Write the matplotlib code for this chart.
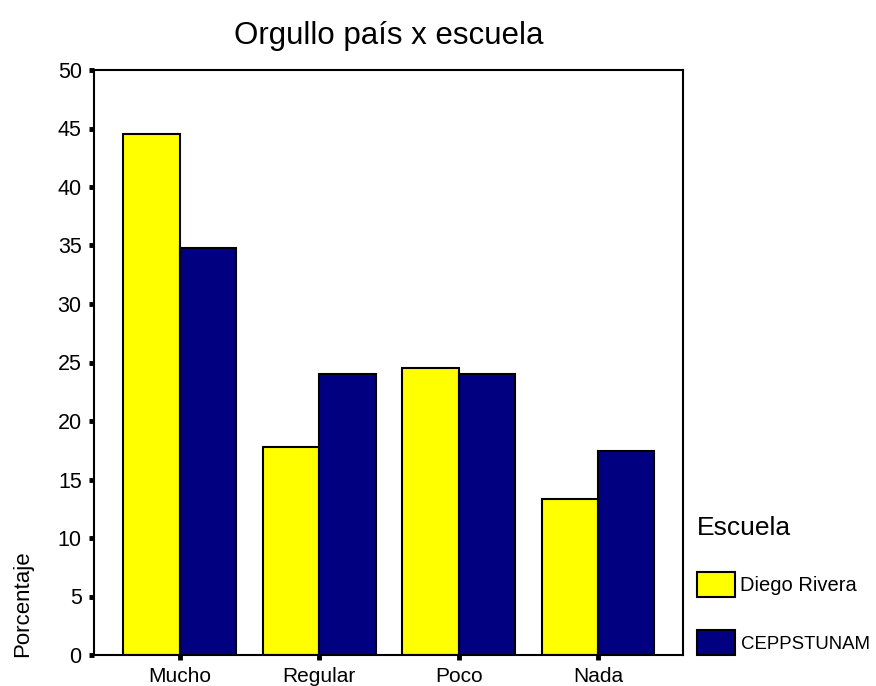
import matplotlib
matplotlib.use("Agg")
import matplotlib.pyplot as plt
import numpy as np

categories = ["Mucho", "Regular", "Poco", "Nada"]
series_names = ["Diego Rivera", "CEPPSTUNAM"]
diego_rivera = [44.5, 17.8, 24.5, 13.3]
ceppstunam = [34.8, 24.0, 24.0, 17.4]
y_ticks = [0, 5, 10, 15, 20, 25, 30, 35, 40, 45, 50]
colors = ["#FFFF00", "#000080"]

plt.rcParams['font.family'] = ['Liberation Sans', 'DejaVu Sans']

W, H = 876, 686
fig = plt.figure(figsize=(W / 100, H / 100), dpi=100)
ax = fig.add_axes([93.5 / W, 1 - 655 / H, (683 - 93.5) / W, (655 - 70) / H])

x = np.arange(len(categories))
bw = 0.405
b1 = ax.bar(x - bw / 2, diego_rivera, width=bw, color=colors[0], edgecolor="black",
            linewidth=1.5, label=series_names[0])
b2 = ax.bar(x + bw / 2, ceppstunam, width=bw, color=colors[1], edgecolor="black",
            linewidth=1.5, label=series_names[1])

ax.set_xlim(-0.62, 3.61)
ax.set_ylim(0, 50)
ax.set_yticks(y_ticks)
ax.set_xticks(x)
ax.set_xticklabels(categories)
for s in ax.spines.values():
    s.set_linewidth(1.5)
    s.set_color("black")
ax.tick_params(axis="both", direction="out", length=3.5, width=3.5, color="black")
ax.tick_params(axis="y", pad=5, labelsize=15.5)
ax.tick_params(axis="x", pad=5, labelsize=15)

ax.set_title("Orgullo país x escuela", fontsize=22.5, pad=19)
ax.set_ylabel("Porcentaje", fontsize=16, loc="bottom")
ax.yaxis.set_label_coords((33 - 93.5) / (683 - 93.5), -0.003)

leg = ax.legend(handles=[b1, b2], labels=series_names, title="Escuela",
                loc="upper left", bbox_to_anchor=(697 / W, 1 - 516 / H),
                bbox_transform=fig.transFigure, frameon=False, fontsize=14.5,
                title_fontsize=19, handlelength=1.9, handleheight=1.55,
                handletextpad=0.26, labelspacing=1.6, alignment="left",
                borderpad=0, borderaxespad=0)
leg.get_texts()[1].set_fontsize(13.4)

fig.savefig("out.png", dpi=100)
